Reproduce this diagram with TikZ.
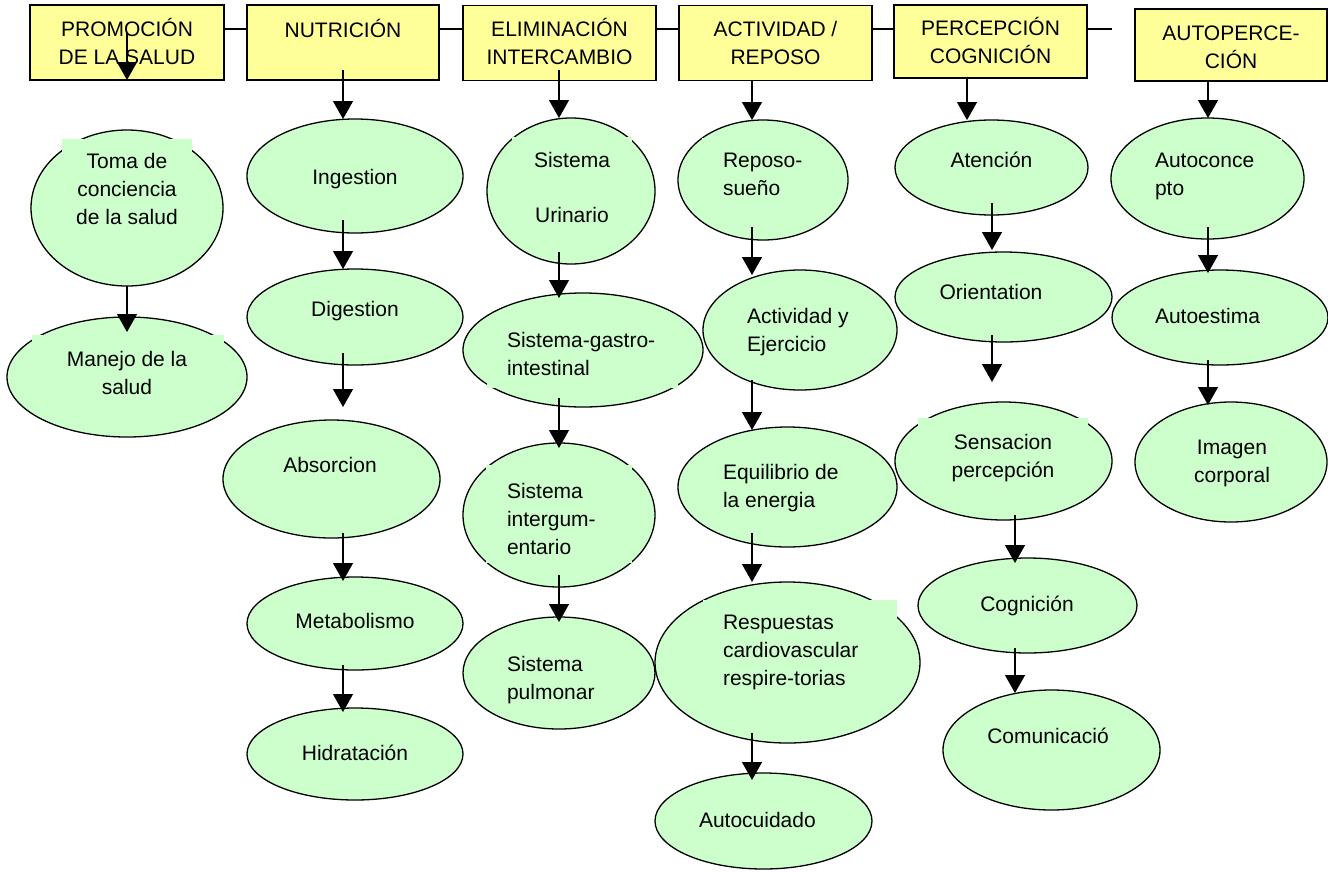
\documentclass[tikz,border=0pt]{standalone}
\usepackage{fontspec}
\setmainfont{Liberation Sans}
\usetikzlibrary{arrows.meta,shapes.geometric}
\definecolor{boxyellow}{HTML}{FFFF99}
\definecolor{ovalgreen}{HTML}{CCFFCC}

\begin{document}
\begin{tikzpicture}[x=1pt,y=-1pt,
  hbox/.style={rectangle, draw=black, fill=boxyellow, line width=1.3pt,
    inner sep=0pt, outer sep=0pt, minimum width=193pt, minimum height=75pt},
  oval/.style={ellipse, draw=black, fill=ovalgreen, line width=1.3pt,
    inner sep=0pt, outer sep=0pt},
  txt/.style={font=\fontsize{21}{28}\selectfont, inner sep=0pt, outer sep=0pt},
  % multi-line labels are placed by the baseline of their last line
  ctr/.style={txt, align=center, anchor=base},
  lft/.style={txt, align=left, anchor=base west},
  link/.style={line width=1.3pt},
  arr/.style={-{Triangle[width=20pt,length=18pt]}, line width=1.3pt}]

\useasboundingbox (0,0) rectangle (1328,871);

% guide lines for the vertical arrows and the header connector
\coordinate (xa) at (127,0);
\coordinate (xb) at (343,0);
\coordinate (xc) at (559,0);
\coordinate (xd) at (752,0);
\coordinate (xe) at (967,0);
\coordinate (xf) at (992,0);
\coordinate (xg) at (1015,0);
\coordinate (xh) at (1208,0);
\coordinate (hl) at (0,29);
\coordinate (lineend) at (1112,29);

% header boxes
\node[hbox, minimum width=194pt] (b1) at (127,42.5) {};
\node[hbox, minimum width=192pt] (b2) at (343,42.5) {};
\node[hbox] (b3) at (559.5,43) {};
\node[hbox] (b4) at (775.5,43) {};
\node[hbox, minimum height=73pt] (b5) at (990.5,41.5) {};
\node[hbox, minimum width=192pt, minimum height=72pt] (b6) at (1231,45) {};

\draw[link] (b1.east |- hl) -- (b2.west |- hl);
\draw[link] (b2.east |- hl) -- (b3.west |- hl);
\draw[link] (b3.east |- hl) -- (b4.west |- hl);
\draw[link] (b4.east |- hl) -- (b5.west |- hl);
\draw[link] (b5.east |- hl) -- (lineend);

\node[ctr] (tb1) at (127,64) {PROMOCIÓN\\DE LA SALUD};
\node[ctr] (tb2) at (343,37) {NUTRICIÓN};
\node[ctr] (tb3) at (559.5,64) {ELIMINACIÓN\\INTERCAMBIO};
\node[ctr] (tb4) at (775.5,64) {ACTIVIDAD /\\REPOSO};
\node[ctr] (tb5) at (990.5,63) {PERCEPCIÓN\\COGNICIÓN};
\node[ctr] (tb6) at (1231,68.5) {AUTOPERCE-\\CIÓN};

% ovals
\node[oval, minimum width=192pt, minimum height=156pt] (toma) at (127,208) {};
\node[oval, minimum width=240pt, minimum height=120pt] (manejo) at (127,377) {};

\node[oval, minimum width=216pt, minimum height=114pt] (ing) at (355,176) {};
\node[oval, minimum width=216pt, minimum height=96pt] (dig) at (355,317) {};
\node[oval, minimum width=217pt, minimum height=118pt] (abs) at (331.5,479) {};
\node[oval, minimum width=216pt, minimum height=93pt] (met) at (355,623.5) {};
\node[oval, minimum width=216pt, minimum height=92pt] (hid) at (355,754) {};

\node[oval, minimum width=168pt, minimum height=146pt] (uri) at (571,191) {};
\node[oval, minimum width=240pt, minimum height=114pt] (gas) at (583,350) {};
\node[oval, minimum width=192pt, minimum height=144pt] (int) at (559,515) {};
\node[oval, minimum width=192pt, minimum height=112pt] (pul) at (559,673) {};

\node[oval, minimum width=170pt, minimum height=120pt] (repo) at (763,180) {};
\node[oval, minimum width=194pt, minimum height=120pt] (act) at (800,330) {};
\node[oval, minimum width=219pt, minimum height=120pt] (equ) at (787.5,487) {};
\node[oval, minimum width=265pt, minimum height=161pt] (res) at (787.5,662.5) {};
\node[oval, minimum width=217pt, minimum height=96pt] (auto) at (763.5,821) {};

\node[oval, minimum width=193pt, minimum height=95pt] (aten) at (991.5,167.5) {};
\node[oval, minimum width=217pt, minimum height=90pt] (ori) at (1003.5,297) {};
\node[oval, minimum width=217pt, minimum height=118pt] (sen) at (1003.5,461) {};
\node[oval, minimum width=219pt, minimum height=95pt] (cog) at (1027.5,605.5) {};
\node[oval, minimum width=217pt, minimum height=120pt] (com) at (1051.5,750) {};

\node[oval, minimum width=193pt, minimum height=121pt] (autoc) at (1207.5,178.5) {};
\node[oval, minimum width=216pt, minimum height=95pt] (autoe) at (1220,317.5) {};
\node[oval, minimum width=192pt, minimum height=120pt] (img) at (1231,462) {};

% text frames lying over the oval outlines
\fill[ovalgreen] (62,139) rectangle (192,258);
\fill[ovalgreen] (32,335) rectangle (224,405);
\fill[ovalgreen] (512,137) rectangle (632,235);
\fill[ovalgreen] (487,322) rectangle (678,388);
\fill[ovalgreen] (486,465) rectangle (632,563);
\fill[ovalgreen] (702,138) rectangle (823,215);
\fill[ovalgreen] (703,600) rectangle (897,686);
\fill[ovalgreen] (918,418) rectangle (1088,490);
\fill[ovalgreen] (1135,139) rectangle (1282,205);

% oval labels
\node[ctr] (ttoma) at (127,224) {Toma de\\conciencia\\de la salud};
\node[ctr] (tmanejo) at (127,394) {Manejo de la\\salud};

\node[ctr] (ting) at (355,184) {Ingestion};
\node[ctr] (tdig) at (355,316) {Digestion};
\node[ctr] (tabs) at (330,472) {Absorcion};
\node[ctr] (tmet) at (355,628) {Metabolismo};
\node[ctr] (thid) at (355,760) {Hidratación};

\node[ctr] (turi) at (572,222) {Sistema\\[27pt]Urinario};
\node[lft] (tgas) at (507,375) {Sistema-gastro-\\intestinal};
\node[lft] (tint) at (507,554) {Sistema\\intergum-\\entario};
\node[lft] (tpul) at (507,699) {Sistema\\pulmonar};

\node[lft] (trepo) at (723,195) {Reposo-\\sueño};
\node[lft] (tact) at (747,351) {Actividad y\\Ejercicio};
\node[lft] (tequ) at (723,507) {Equilibrio de\\la energia};
\node[lft] (tres) at (723,685) {Respuestas\\cardiovascular\\respire-torias};
\node[lft] (tauto) at (699,827) {Autocuidado};

\node[ctr] (taten) at (991.5,167) {Atención};
\node[ctr] (tori) at (991,299) {Orientation};
\node[ctr] (tsen) at (1003,477) {Sensacion\\percepción};
\node[ctr] (tcog) at (1027,611) {Cognición};
\node[ctr] (tcom) at (1048,743) {Comunicació};

\node[lft] (tautoc) at (1155,195) {Autoconce\\pto};
\node[lft] (tautoe) at (1155,323) {Autoestima};
\node[ctr] (timg) at (1232,482) {Imagen\\corporal};

% arrows from the headers (the first one stays inside its box)
\draw[arr, shorten <=28pt] (b1.north -| xa) -- (b1.south -| xa);
\draw[arr, shorten <=-10pt] (b2.south -| xb) -- (ing.north -| xb);
\draw[arr, shorten <=-11pt] (b3.south -| xc) -- (uri.north -| xc);
\draw[arr] (b4.south -| xd) -- (repo.north -| xd);
\draw[arr] (b5.south -| xe) -- (aten.north -| xe);
\draw[arr] (b6.south -| xh) -- (autoc.north -| xh);

% arrows inside each column
\draw[arr, shorten >=-15pt] (toma.south -| xa) -- (manejo.north -| xa);

\draw[arr, shorten <=-13pt] (ing.south -| xb) -- (dig.north -| xb);
\draw[arr, shorten <=-12pt, shorten >=13pt] (dig.south -| xb) -- (abs.north -| xb);
\draw[arr, shorten <=-5pt, shorten >=-4pt] (abs.south -| xb) -- (met.north -| xb);
\draw[arr, shorten <=-5pt, shorten >=-4pt] (met.south -| xb) -- (hid.north -| xb);

\draw[arr, shorten <=-12pt, shorten >=-5pt] (uri.south -| xc) -- (gas.north -| xc);
\draw[arr, shorten <=-9pt, shorten >=-5pt] (gas.south -| xc) -- (int.north -| xc);
\draw[arr, shorten <=-12pt, shorten >=-5pt] (int.south -| xc) -- (pul.north -| xc);

\draw[arr, shorten <=-13pt, shorten >=-5pt] (repo.south -| xd) -- (act.north -| xd);
\draw[arr, shorten <=-10pt, shorten >=-3pt] (act.south -| xd) -- (equ.north -| xd);
\draw[arr, shorten <=-14pt] (equ.south -| xd) -- (res.north -| xd);
\draw[arr, shorten <=-10pt, shorten >=-7pt] (res.south -| xd) -- (auto.north -| xd);

\draw[arr, shorten <=-12pt, shorten >=2pt] (aten.south -| xf) -- (ori.north -| xf);
\draw[arr, shorten <=-7pt, shorten >=20pt] (ori.south -| xf) -- (sen.north -| xf);
\draw[arr, shorten <=-5pt, shorten >=-5pt] (sen.south -| xg) -- (cog.north -| xg);
\draw[arr, shorten <=-5pt, shorten >=-3pt] (cog.south -| xg) -- (com.north -| xg);

\draw[arr, shorten <=-12pt, shorten >=-3pt] (autoc.south -| xh) -- (autoe.north -| xh);
\draw[arr, shorten <=-5pt, shorten >=-3pt] (autoe.south -| xh) -- (img.north -| xh);
\end{tikzpicture}
\end{document}
